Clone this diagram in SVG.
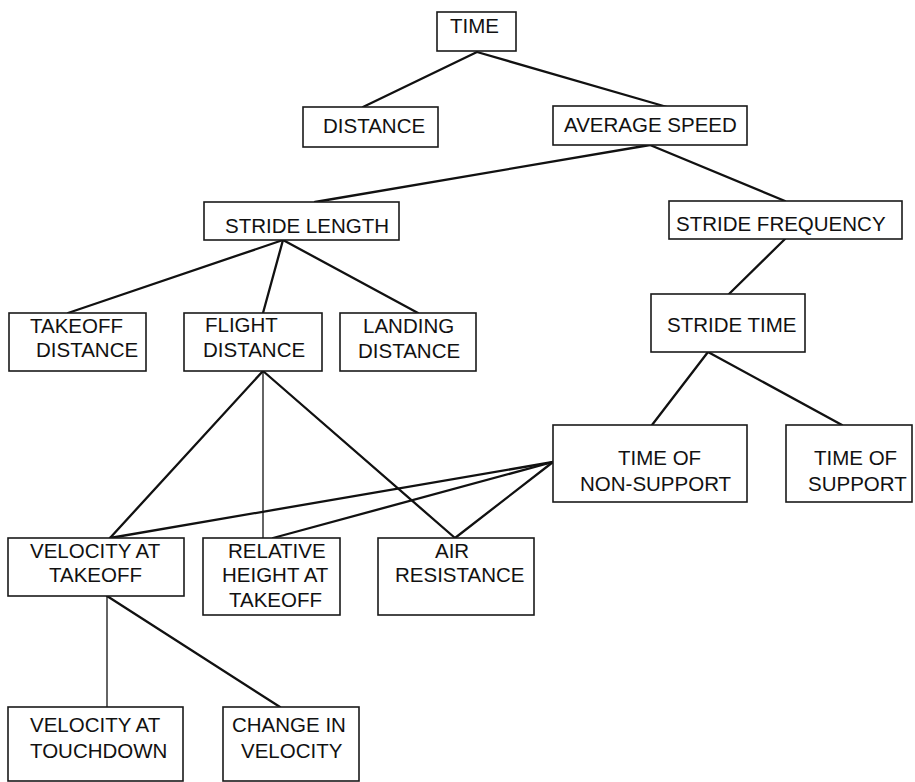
<svg xmlns="http://www.w3.org/2000/svg" width="915" height="782" viewBox="0 0 915 782">
<style>
.box{fill:#fff;stroke:#1a1a1a;stroke-width:1.6}
.t{font-family:"Liberation Sans",Arial,sans-serif;font-size:20.5px;fill:#111}
.c{stroke:#111;stroke-width:2.3;fill:none;stroke-linecap:round}
.thin{stroke:#111;stroke-width:1.3;fill:none}
</style>
<rect width="915" height="782" fill="#fff"/>
<g id="connectors">
<line class="c" x1="477" y1="52" x2="363" y2="107"/>
<line class="c" x1="477" y1="52" x2="667" y2="107"/>
<line class="c" x1="650" y1="145" x2="315" y2="202"/>
<line class="c" x1="650" y1="145" x2="785" y2="201"/>
<line class="c" x1="283" y1="240" x2="68" y2="313"/>
<line class="c" x1="283" y1="240" x2="263" y2="313"/>
<line class="c" x1="283" y1="240" x2="418" y2="313"/>
<line class="c" x1="785" y1="239" x2="729" y2="294"/>
<line class="c" x1="708" y1="352" x2="652" y2="425"/>
<line class="c" x1="708" y1="352" x2="842" y2="425"/>
<line class="c" x1="263" y1="371" x2="110" y2="538"/>
<line class="thin" x1="263" y1="371" x2="263" y2="538"/>
<line class="c" x1="263" y1="371" x2="455" y2="538"/>
<line class="c" x1="553" y1="462" x2="110" y2="538"/>
<line class="c" x1="553" y1="462" x2="273" y2="538"/>
<line class="c" x1="553" y1="462" x2="455" y2="538"/>
<line class="thin" x1="107" y1="596" x2="107" y2="707"/>
<line class="c" x1="107" y1="596" x2="280" y2="707"/>
</g>
<g id="n-time"><rect class="box" x="437" y="12" width="79" height="39"/><text class="t" x="450" y="33">TIME</text></g>
<g id="n-distance"><rect class="box" x="303" y="107" width="135" height="40"/><text class="t" x="323" y="133">DISTANCE</text></g>
<g id="n-avgspeed"><rect class="box" x="553" y="106" width="194" height="39"/><text class="t" x="564" y="132">AVERAGE SPEED</text></g>
<g id="n-stridelength"><rect class="box" x="204" y="202" width="195" height="38"/><text class="t" x="225" y="233">STRIDE LENGTH</text></g>
<g id="n-stridefreq"><rect class="box" x="669" y="201" width="233" height="38"/><text class="t" x="676" y="231">STRIDE FREQUENCY</text></g>
<g id="n-takeoffdist"><rect class="box" x="9" y="313" width="137" height="58"/><text class="t" x="30" y="333">TAKEOFF</text><text class="t" x="36" y="357">DISTANCE</text></g>
<g id="n-flightdist"><rect class="box" x="184" y="313" width="138" height="58"/><text class="t" x="205" y="332">FLIGHT</text><text class="t" x="203" y="357">DISTANCE</text></g>
<g id="n-landingdist"><rect class="box" x="340" y="313" width="136" height="58"/><text class="t" x="363" y="333">LANDING</text><text class="t" x="358" y="358">DISTANCE</text></g>
<g id="n-stridetime"><rect class="box" x="651" y="294" width="154" height="58"/><text class="t" x="667" y="332">STRIDE TIME</text></g>
<g id="n-nonsupport"><rect class="box" x="553" y="425" width="194" height="77"/><text class="t" x="618" y="465">TIME OF</text><text class="t" x="580" y="491">NON-SUPPORT</text></g>
<g id="n-support"><rect class="box" x="786" y="425" width="126" height="77"/><text class="t" x="814" y="465">TIME OF</text><text class="t" x="808" y="491">SUPPORT</text></g>
<g id="n-veltakeoff"><rect class="box" x="8" y="538" width="176" height="58"/><text class="t" x="30" y="558">VELOCITY AT</text><text class="t" x="49" y="582">TAKEOFF</text></g>
<g id="n-relheight"><rect class="box" x="203" y="538" width="137" height="77"/><text class="t" x="228" y="558">RELATIVE</text><text class="t" x="222" y="582">HEIGHT AT</text><text class="t" x="229" y="607">TAKEOFF</text></g>
<g id="n-airres"><rect class="box" x="378" y="538" width="156" height="77"/><text class="t" x="435" y="558">AIR</text><text class="t" x="395" y="582">RESISTANCE</text></g>
<g id="n-veltouch"><rect class="box" x="8" y="707" width="175" height="74"/><text class="t" x="30" y="732">VELOCITY AT</text><text class="t" x="30" y="758">TOUCHDOWN</text></g>
<g id="n-changevel"><rect class="box" x="223" y="707" width="136" height="74"/><text class="t" x="232" y="732">CHANGE IN</text><text class="t" x="241" y="758">VELOCITY</text></g>
</svg>
